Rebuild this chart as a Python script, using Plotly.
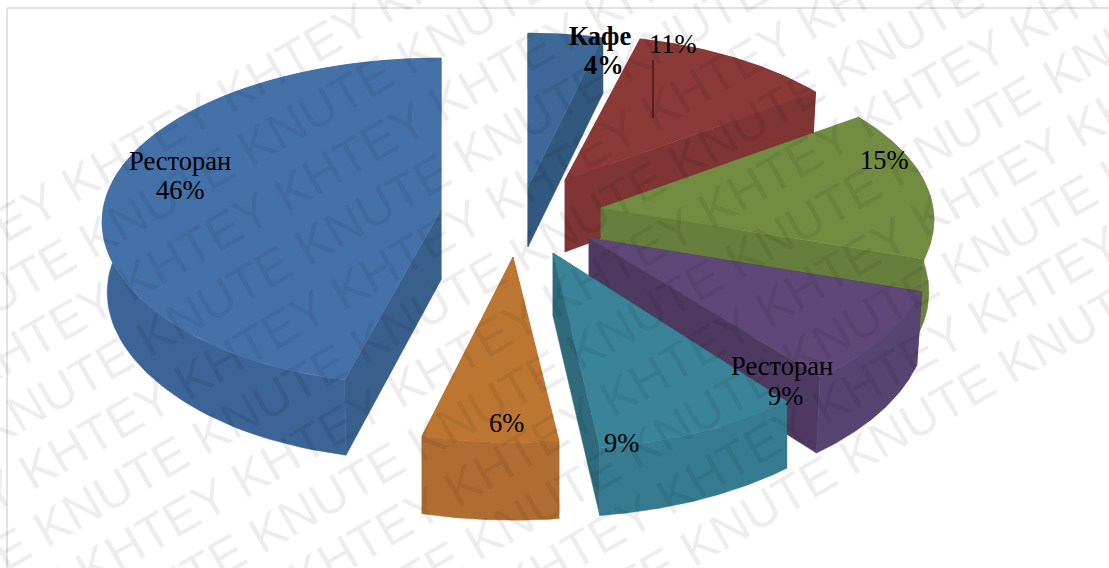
import numpy as np
import plotly.graph_objects as go

# --- data ---
categories = ["Кафе", "", "", "Ресторан", "", "", "Ресторан"]
values = [4, 11, 15, 9, 9, 6, 46]
watermark_words = ["KNUTE", "KHTEY"]

# --- styles / layout of the exploded 3-D look ---
W, H = 1109, 568
top_colors = ["#3d6897", "#8b3a38", "#728c42", "#5f4877", "#3a8499", "#bd7632", "#4571a9"]
outer_colors = ["#33587f", "#7e3533", "#6a833e", "#574470", "#367b90", "#b06d31", "#3c6496"]
inner_colors = ["#33587f", "#7e3533", "#677f3c", "#4e3a60", "#2f6a7d", "#ad6b30", "#39608c"]
apex = [(528, 187), (565, 180), (601, 208), (589, 238), (553, 253), (513, 257), (441, 210)]
radii_x = [322, 323, 332, 342, 346, 340, 338]
radii_y = [165, 156, 161, 170, 182, 172, 163]
depths = [60, 72, 72, 72, 63, 72, 70]
floor_x = [1.0, 0.985, 0.985, 0.985, 1.0, 1.0, 0.985]
front_stretch = [0, 0, 0, 0, 0, 0, 0.08]
PERSP = 0.073
label_pos = [(600, 36, 604, 65), (673, 44, None, None), (884, 160, None, None),
             (782, 366, 785, 396), (621, 443, None, None), (506, 423, None, None),
             (180, 161, 180, 190)]
FONT = "Liberation Serif"
FS = 26.5


def project(a, i, drop=False):
    """Angle in degrees clockwise from 12 o'clock -> picture position of the rim."""
    t = np.radians(np.asarray(a, dtype=float))
    c = np.cos(t)
    d = 1 + PERSP * c
    stretch = 1 + front_stretch[i] * np.clip(-c, 0, 1) ** 6
    x = radii_x[i] * np.sin(t) / d * stretch
    y = -radii_y[i] * c / d
    if drop:
        x = x * floor_x[i]
        y = y + depths[i] / d
    return apex[i][0] + x, apex[i][1] + y


fig = go.Figure()


def poly(xs, ys, color):
    fig.add_trace(go.Scatter(x=list(xs) + [xs[0]], y=list(ys) + [ys[0]], mode="lines", fill="toself",
                             fillcolor=color, line=dict(color=color, width=0.5),
                             hoverinfo="skip", showlegend=False))


cum = np.concatenate([[0], np.cumsum(values)]) / sum(values) * 360.0
# painter's order: back slices first, front slices last
order = [0, 1, 2, 6, 3, 4, 5]
for i in order:
    a0, a1 = cum[i], cum[i + 1]
    th = np.linspace(a0, a1, 90)
    tx, ty = project(th, i)
    bx, by = project(th, i, drop=True)
    ax0, ay0 = apex[i]
    ax1, ay1 = ax0, ay0 + depths[i]
    poly([ax0, tx[0], bx[0], ax1], [ay0, ty[0], by[0], ay1], inner_colors[i])
    poly([ax0, tx[-1], bx[-1], ax1], [ay0, ty[-1], by[-1], ay1], inner_colors[i])
    poly(list(tx) + list(bx[::-1]), list(ty) + list(by[::-1]), outer_colors[i])
    poly([ax0] + list(tx), [ay0] + list(ty), top_colors[i])

# leader line of the 11% label
fig.add_trace(go.Scatter(x=[653, 653], y=[60, 118], mode="lines", line=dict(color="#111", width=1),
                         hoverinfo="skip", showlegend=False))

ann = []
for i, (c, v) in enumerate(zip(categories, values)):
    x1, y1, x2, y2 = label_pos[i]
    bold = i == 0
    lines = [f"{v}%"] if not c else [c, f"{v}%"]
    pts = [(x1, y1)] if not c else [(x1, y1), (x2, y2)]
    for t, (px, py) in zip(lines, pts):
        ann.append(dict(x=px, y=py, xref="x", yref="y", text=f"<b>{t}</b>" if bold else t, showarrow=False,
                        font=dict(family=FONT, size=FS, color="#000"), xanchor="center", yanchor="middle"))

# watermark: rows at 30 degrees, each row repeating one word, words alternating by row
ANG = 30
WM_FS = 50
ux, uy = np.cos(np.radians(ANG)), -np.sin(np.radians(ANG))
nx, ny = -uy, ux
ROW = 56.8
N0 = 821.8          # row position across the slant
A0 = 683.0          # where a word starts along the slant
A_MID = W / 2 * ux + H / 2 * uy
word_em = {"KNUTE": 3.389, "KHTEY": 3.334}
REPEAT = 12
for k in range(-15, 6):
    word = watermark_words[k % 2]
    period = (word_em[word] + 0.278) * WM_FS
    half = (REPEAT * period - 0.278 * WM_FS) / 2
    a_c = A0 + half
    a_c += np.round((A_MID - a_c) / period) * period
    n_c = N0 + k * ROW
    ann.append(dict(x=a_c * ux + n_c * nx, y=a_c * uy + n_c * ny, xref="x", yref="y",
                    text=" ".join([word] * REPEAT), showarrow=False, textangle=-ANG,
                    font=dict(family="Liberation Sans", size=WM_FS, color="rgba(0,0,0,0.07)"),
                    xanchor="center", yanchor="middle"))

fig.update_layout(
    width=W, height=H, margin=dict(l=0, r=0, t=0, b=0), paper_bgcolor="white", plot_bgcolor="white",
    xaxis=dict(range=[0, W], visible=False, fixedrange=True),
    yaxis=dict(range=[H, 0], visible=False, fixedrange=True),
    annotations=ann,
    shapes=[dict(type="line", xref="x", yref="y", x0=7, y0=8, x1=W, y1=8, line=dict(color="#d9d9d9", width=1.5)),
            dict(type="line", xref="x", yref="y", x0=7, y0=8, x1=7, y1=H, line=dict(color="#d9d9d9", width=1.5))],
)
fig.write_html("out.html", config={"displayModeBar": False},
               post_script="document.body.style.margin='0';document.body.style.overflow='hidden';")
